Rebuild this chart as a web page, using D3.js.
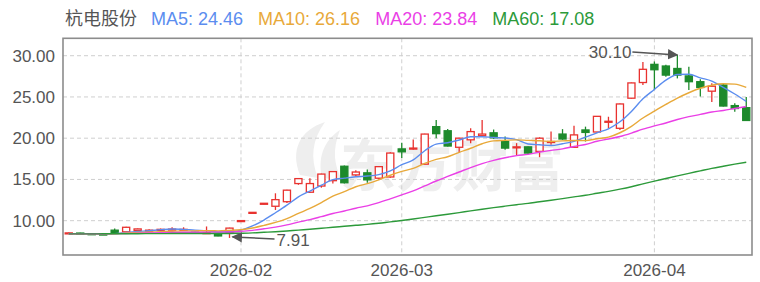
<html><head>
<title>杭电股份 K线</title>
<script src="https://d3js.org/d3.v7.min.js"></script>
<style>
  body { margin: 0; background: #fff; }
  text { font-family: "Liberation Sans", Arial, "Noto Sans CJK SC", sans-serif; }
</style>
</head>
<body>
<svg id="kline" width="760" height="282"></svg>
<script>
  // trading days shown (60)
  const dates = [
    "2026-01-12","2026-01-13","2026-01-14","2026-01-15","2026-01-16","2026-01-19","2026-01-20","2026-01-21",
    "2026-01-22","2026-01-23","2026-01-26","2026-01-27","2026-01-28","2026-01-29","2026-01-30",
    "2026-02-02","2026-02-03","2026-02-04","2026-02-05","2026-02-06","2026-02-09","2026-02-10","2026-02-11",
    "2026-02-12","2026-02-13","2026-02-24","2026-02-25","2026-02-26","2026-02-27",
    "2026-03-02","2026-03-03","2026-03-04","2026-03-05","2026-03-06","2026-03-09","2026-03-10","2026-03-11",
    "2026-03-12","2026-03-13","2026-03-16","2026-03-17","2026-03-18","2026-03-19","2026-03-20","2026-03-23",
    "2026-03-24","2026-03-25","2026-03-26","2026-03-27","2026-03-30","2026-03-31",
    "2026-04-01","2026-04-02","2026-04-03","2026-04-07","2026-04-08","2026-04-09","2026-04-10","2026-04-13","2026-04-14"
  ];
  const open = [8.45,8.50,8.42,8.38,8.85,8.65,8.80,8.80,8.88,8.92,8.92,8.60,8.50,8.35,8.55,
    10.00,11.00,12.05,11.75,12.30,14.50,13.45,14.20,14.85,16.60,15.55,15.80,15.15,15.30,
    18.70,18.70,16.85,21.40,20.90,18.90,19.80,20.30,20.65,19.60,18.85,18.95,18.40,19.50,20.50,18.90,
    21.00,20.75,21.95,21.20,24.85,26.75,
    28.95,28.75,28.45,27.55,26.85,25.70,26.45,23.95,23.70];
  const close = [8.52,8.42,8.38,8.30,8.55,9.20,9.00,8.85,8.95,8.98,8.95,8.50,8.55,8.15,9.10,
    10.01,11.01,12.11,12.55,13.70,15.10,14.50,15.65,15.95,14.60,15.90,14.95,16.55,18.20,
    18.35,18.80,20.50,20.55,19.05,20.00,20.80,20.50,20.05,18.80,18.95,18.20,20.00,19.60,19.90,20.40,
    20.70,22.65,22.05,24.15,26.70,28.35,
    28.30,27.65,27.65,26.85,26.15,26.30,23.90,23.60,22.15];
  const high = [8.58,8.53,8.46,8.40,9.05,9.25,9.05,8.95,9.05,9.20,9.20,8.65,9.30,8.40,9.15,
    10.01,11.01,12.11,13.32,13.75,15.15,15.15,15.70,16.00,16.70,16.10,16.20,16.60,18.30,
    19.45,19.85,20.55,22.20,21.10,20.05,21.20,22.20,21.05,20.20,19.40,19.00,20.10,20.80,21.10,21.50,
    21.40,22.70,22.60,24.20,26.75,29.25,
    29.30,28.90,30.10,28.65,27.15,26.65,26.60,24.25,25.00];
  const low = [8.42,8.40,8.35,8.27,8.50,8.60,8.75,8.72,8.82,8.85,8.85,8.45,8.45,8.10,7.91,
    9.95,10.95,11.95,11.30,12.15,14.35,13.35,14.00,14.50,14.50,15.40,14.60,15.00,15.20,
    17.60,18.60,16.80,20.00,19.00,18.20,19.40,20.20,19.90,18.60,17.95,18.10,17.70,19.20,19.80,18.85,
    19.60,20.70,21.20,21.00,24.80,26.45,
    25.85,27.45,27.25,25.85,25.05,24.40,23.85,23.20,22.10];

  const ma5 = [8.42,8.43,8.42,8.40,8.43,8.57,8.69,8.78,8.91,9.00,8.95,8.85,8.79,8.63,8.65,
    8.86,9.36,10.08,10.96,11.88,12.89,13.59,14.30,14.98,15.16,15.32,15.41,15.59,16.04,
    16.79,17.37,18.48,19.28,19.45,19.78,20.18,20.18,20.08,20.03,19.82,19.30,19.20,19.11,19.33,19.62,
    20.12,20.65,21.14,21.99,23.25,24.78,
    25.91,27.03,27.73,27.76,27.32,26.92,26.17,25.36,24.46];
  const ma10 = [8.41,8.41,8.41,8.40,8.42,8.50,8.56,8.60,8.66,8.72,8.76,8.77,8.78,8.77,8.82,
    8.90,9.11,9.43,9.79,10.26,10.88,11.48,12.19,12.97,13.52,14.11,14.50,14.95,15.51,
    15.98,16.35,16.95,17.44,17.75,18.29,18.78,19.33,19.68,19.74,19.80,19.74,19.69,19.60,19.68,19.72,
    19.71,19.93,20.13,20.66,21.44,22.45,
    23.28,24.09,24.86,25.51,26.05,26.42,26.60,26.55,26.16];
  const ma20 = [8.41,8.41,8.42,8.42,8.43,8.45,8.48,8.50,8.53,8.56,8.59,8.59,8.61,8.61,8.62,
    8.70,8.83,9.02,9.22,9.49,9.82,10.12,10.49,10.87,11.17,11.51,11.80,12.19,12.65,
    13.12,13.61,14.21,14.81,15.36,15.90,16.44,16.92,17.31,17.63,17.89,18.04,18.32,18.52,18.71,19.00,
    19.24,19.63,19.90,20.20,20.62,21.10,
    21.49,21.84,22.27,22.61,22.88,23.17,23.36,23.60,23.84];
  const ma60 = [8.40,8.40,8.40,8.41,8.41,8.42,8.42,8.43,8.43,8.44,8.44,8.44,8.45,8.45,8.45,
    8.48,8.52,8.59,8.66,8.75,8.86,8.96,9.08,9.21,9.32,9.44,9.55,9.69,9.86,
    10.02,10.20,10.40,10.60,10.78,10.98,11.19,11.39,11.58,11.76,11.94,12.10,12.30,12.48,12.68,12.88,
    13.08,13.32,13.55,13.82,14.12,14.46,
    14.79,15.11,15.43,15.74,16.04,16.34,16.60,16.85,17.08];

  const yTicks = [10, 15, 20, 25, 30];
  const monthStarts = ["2026-02-02", "2026-03-02", "2026-04-01"];
  const stockName = "杭电股份";
  const maNames = ["MA5", "MA10", "MA20", "MA60"];
  const maSeries = [ma5, ma10, ma20, ma60];
  const maColors = ["#5b8def", "#e8a93a", "#ea3fe6", "#2c9a3a"];

  const svg = d3.select("svg#kline");
  const plotL = 63, plotR = 752, plotT = 38.3, plotB = 255;
  const upColor = "#e8322f", downColor = "#1d8a2c";

  const x = d3.scaleBand().domain(dates).range([plotL, plotR]);
  const bw = x.bandwidth();
  const cx = d => x(d) + bw / 2;
  const y = d3.scaleLinear().domain([5.84, 32.11]).range([plotB, plotT]);

  // watermark
  const wm = svg.append("g").attr("fill", "#eeeeee");
  wm.append("path")
    .attr("d", "M300,175 C290,150 300,130 325,122 C312,140 310,158 318,178 Z M322,178 C318,160 322,142 340,130 C332,150 334,165 342,180 Z");
  wm.append("text").attr("x", 340).attr("y", 186)
    .style("font-size", "56px").style("font-weight", "bold")
    .style("font-family", "'Noto Sans CJK SC', sans-serif")
    .text("东方财富");

  // grid
  svg.append("g").selectAll("line").data(yTicks).join("line")
    .attr("x1", plotL).attr("x2", plotR)
    .attr("y1", d => y(d)).attr("y2", d => y(d))
    .attr("stroke", "#cfcfcf").attr("stroke-dasharray", "4,3");
  svg.append("g").selectAll("line").data(monthStarts).join("line")
    .attr("x1", d => cx(d)).attr("x2", d => cx(d))
    .attr("y1", plotT).attr("y2", plotB)
    .attr("stroke", "#cfcfcf").attr("stroke-dasharray", "4,3");

  // axes
  const yAxis = svg.append("g").attr("transform", `translate(${plotL - 5},0)`)
    .call(d3.axisLeft(y).tickValues(yTicks).tickFormat(d3.format(".2f")).tickSize(0));
  yAxis.select(".domain").remove();
  yAxis.selectAll("text").attr("fill", "#555").style("font-size", "17px")
    .style("font-family", "'Liberation Sans', Arial, sans-serif");

  const xAxis = svg.append("g").attr("transform", `translate(0,${plotB + 6})`)
    .call(d3.axisBottom(x).tickValues(monthStarts).tickFormat(d => d.slice(0, 7)).tickSize(0));
  xAxis.select(".domain").remove();
  xAxis.selectAll("text").attr("fill", "#555").style("font-size", "17px")
    .style("font-family", "'Liberation Sans', Arial, sans-serif");

  // candles
  const candles = dates.map((d, i) => ({ d, o: open[i], c: close[i], h: high[i], l: low[i] }));
  const bodyW = bw * 0.62;
  const cg = svg.append("g").selectAll("g").data(candles).join("g");
  cg.append("line")
    .attr("x1", d => cx(d.d)).attr("x2", d => cx(d.d))
    .attr("y1", d => y(d.h)).attr("y2", d => y(d.l))
    .attr("stroke", d => d.c >= d.o ? upColor : downColor).attr("stroke-width", 1.3);
  cg.append("rect")
    .attr("x", d => cx(d.d) - bodyW / 2)
    .attr("width", bodyW)
    .attr("y", d => y(Math.max(d.o, d.c)))
    .attr("height", d => Math.max(1, Math.abs(y(d.o) - y(d.c))))
    .attr("fill", d => d.c >= d.o ? "#fff" : downColor)
    .attr("stroke", d => d.c >= d.o ? upColor : downColor)
    .attr("stroke-width", 1.3);

  // moving averages
  const line = d3.line().x((v, i) => cx(dates[i])).y(v => y(v)).curve(d3.curveMonotoneX);
  svg.append("g").selectAll("path").data(maSeries).join("path")
    .attr("d", line)
    .attr("fill", "none")
    .attr("stroke", (d, i) => maColors[i])
    .attr("stroke-width", 1.4);

  // frame
  svg.append("rect").attr("x", plotL).attr("y", plotT)
    .attr("width", plotR - plotL).attr("height", plotB - plotT)
    .attr("fill", "none").attr("stroke", "#8c8c8c").attr("stroke-width", 1.6);

  // max / min markers
  const hi = d3.maxIndex(high), lo = d3.minIndex(low);
  svg.append("defs").append("marker").attr("id", "arr")
    .attr("viewBox", "0 0 10 10").attr("refX", 9).attr("refY", 5)
    .attr("markerWidth", 7).attr("markerHeight", 7).attr("orient", "auto-start-reverse")
    .append("path").attr("d", "M0,0 L10,5 L0,10 Z").attr("fill", "#555");

  const hx = cx(dates[hi]), hy = y(high[hi]);
  svg.append("line").attr("x1", hx - 45).attr("y1", hy - 3).attr("x2", hx).attr("y2", hy)
    .attr("stroke", "#555").attr("stroke-width", 1.5).attr("marker-end", "url(#arr)");
  svg.append("text").attr("x", hx - 46).attr("y", hy - 3).attr("dy", "0.35em")
    .attr("text-anchor", "end").attr("fill", "#555").style("font-size", "17px")
    .text(high[hi].toFixed(2));

  const lx = cx(dates[lo]), ly = y(low[lo]);
  svg.append("line").attr("x1", lx + 45).attr("y1", ly + 1).attr("x2", lx + 3).attr("y2", ly - 1)
    .attr("stroke", "#555").attr("stroke-width", 1.5).attr("marker-end", "url(#arr)");
  svg.append("text").attr("x", lx + 47).attr("y", ly + 2).attr("dy", "0.35em")
    .attr("fill", "#555").style("font-size", "17px")
    .text(low[lo].toFixed(2));

  // legend
  const lg = svg.append("g").attr("transform", "translate(65,25)");
  let lx0 = 0;
  const nameText = lg.append("text").attr("x", lx0).attr("fill", "#555")
    .style("font-size", "18px").style("font-family", "'Noto Sans CJK SC', sans-serif").text(stockName);
  lx0 += nameText.node().getComputedTextLength() + 14;
  maNames.forEach((n, i) => {
    const t = lg.append("text").attr("x", lx0).attr("fill", maColors[i])
      .style("font-size", "18px")
      .text(`${n}: ${maSeries[i][maSeries[i].length - 1].toFixed(2)}`);
    lx0 += t.node().getComputedTextLength() + 15;
  });
</script>
</body>
</html>
